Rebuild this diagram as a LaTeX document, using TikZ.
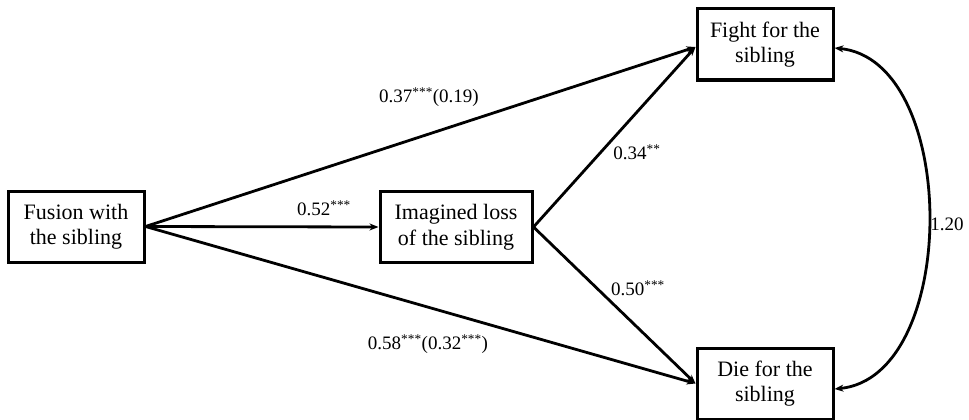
\documentclass[tikz,border=0pt]{standalone}
\usepackage{fontspec}
\setmainfont{Liberation Serif}
\usetikzlibrary{arrows.meta}
\begin{document}
\begin{tikzpicture}[x=1pt,y=-1pt,
  box/.style={draw, line width=3pt, minimum width=#1, minimum height=71pt, inner sep=0pt, align=center, font=\fontsize{22}{25.5}\selectfont},
  conn/.style={line width=2.8pt, -{Stealth[length=9pt,width=7pt]}},
  lab/.style={font=\fontsize{19}{22}\selectfont, inner sep=0pt}]
\useasboundingbox (0,0) rectangle (969,420);
\node[box=136pt] (fusion) at (76,226.5) {Fusion with\\the sibling};
\node[box=152pt] (imag) at (456,227) {Imagined loss\\of the sibling};
\node[box=136pt] (fight) at (765,44.5) {Fight for the\\sibling};
\node[box=136pt] (die) at (765,383.5) {Die for the\\sibling};
\coordinate (fin) at (fight.west |- 0,47);
\draw[conn] (fusion.east) -- (fin);
\draw[conn] (fusion.east) -- (imag.west);
\draw[conn] (fusion.east) -- (die.west);
\draw[conn] (imag.east) -- (fin);
\draw[conn] (imag.east) -- (die.west);
\coordinate (ft) at (fight.east |- 0,48);
\coordinate (dt) at (die.east |- 0,389);
\draw[line width=2.8pt, {Stealth[length=9pt,width=7pt]}-{Stealth[length=9pt,width=7pt]}] (ft) .. controls (960,60) and (960,377) .. (dt);
\node[lab] (l1) at (429,97) {0.37\textsuperscript{***}(0.19)};
\node[lab] (l2) at (324,208) {0.52\textsuperscript{***}};
\node[lab] (l3) at (637,152) {0.34\textsuperscript{**}};
\node[lab] (l4) at (638,288) {0.50\textsuperscript{***}};
\node[lab] (l5) at (428,344) {0.58\textsuperscript{***}(0.32\textsuperscript{***})};
\node[lab] (l6) at (947,224) {1.20};
\end{tikzpicture}
\end{document}
